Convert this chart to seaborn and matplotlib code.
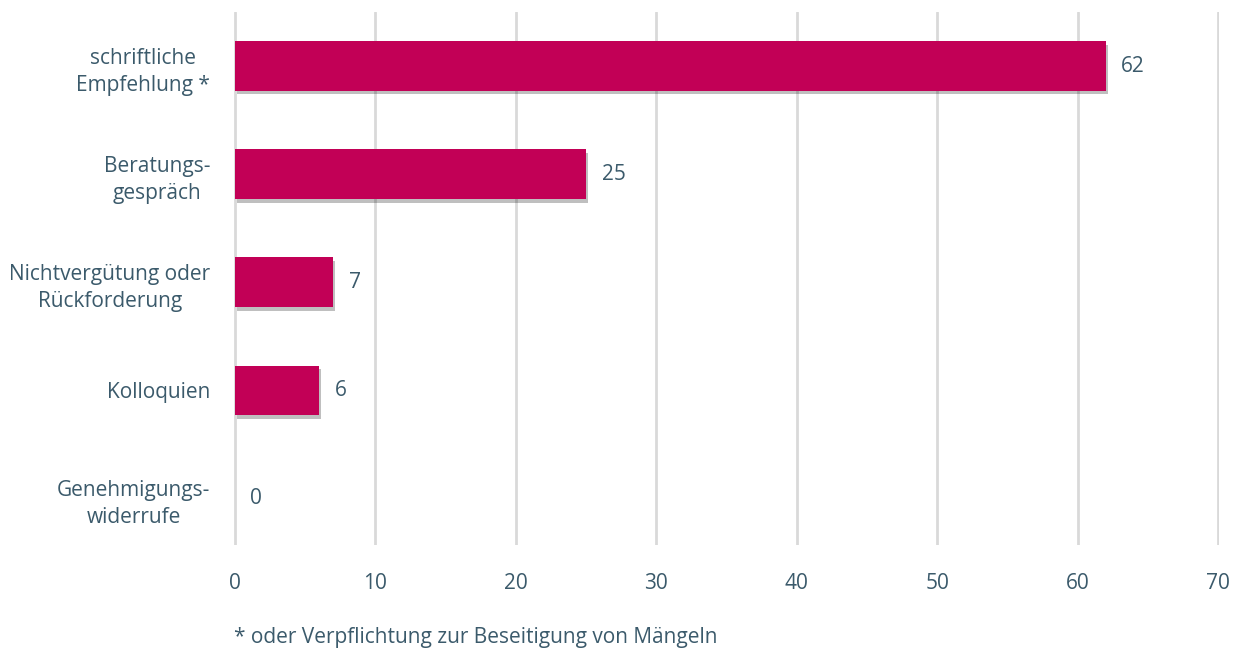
import matplotlib
matplotlib.use("Agg")
import matplotlib.pyplot as plt
import matplotlib.patheffects as pe
import seaborn as sns
import pandas as pd

# Data
categories = [
    "schriftliche\nEmpfehlung *",
    "Beratungs-\ngespräch",
    "Nichtvergütung oder\nRückforderung",
    "Kolloquien",
    "Genehmigungs-\nwiderrufe",
]
values = [62, 25, 7, 6, 0]
x_ticks = [0, 10, 20, 30, 40, 50, 60, 70]
footnote = "* oder Verpflichtung zur Beseitigung von Mängeln"

bar_color = "#c20056"
text_color = "#3b5a6b"
grid_color = "#d9d9d9"

sns.set_theme(style="white")
plt.rcParams["font.family"] = ["Open Sans", "DejaVu Sans"]

df = pd.DataFrame({"category": categories, "value": values})

fig = plt.figure(figsize=(12.44, 6.55), dpi=100)
ax = fig.add_axes([0.188, 110 / 655, 0.792, 533 / 655])

sns.barplot(data=df, x="value", y="category", color=bar_color,
            width=0.46, saturation=1, linewidth=0, ax=ax, zorder=3)

for bar in ax.patches:
    bar.set_path_effects([pe.SimplePatchShadow(offset=(1.5, -2.5), shadow_rgbFace="black", alpha=0.25),
                          pe.Normal()])

for bar, v in zip(ax.patches, values):
    if v == 0:
        bar.set_visible(False)
    ax.text(bar.get_width() + 1.1, bar.get_y() + bar.get_height() / 2, str(v),
            va="center", ha="left", fontsize=15, color=text_color)

ax.set_xlim(-0.08, 70.08)
ax.set_xticks(x_ticks)
ax.set_ylim(4.43, -0.5)
ax.set_xlabel("")
ax.set_ylabel("")

ax.grid(axis="x", color=grid_color, linewidth=2, zorder=0)
ax.grid(axis="y", visible=False)
for s in ["top", "right", "bottom", "left"]:
    ax.spines[s].set_visible(False)

ax.tick_params(axis="x", length=0, pad=20, labelsize=15, labelcolor=text_color)
ax.tick_params(axis="y", length=0, pad=17, labelsize=15, labelcolor=text_color)
for lbl in ax.get_yticklabels():
    lbl.set_multialignment("center")
    lbl.set_linespacing(1.4)

fig.text(0.188, 17 / 655, footnote, fontsize=15, color=text_color, ha="left", va="center")

fig.savefig("out.png", dpi=100)
